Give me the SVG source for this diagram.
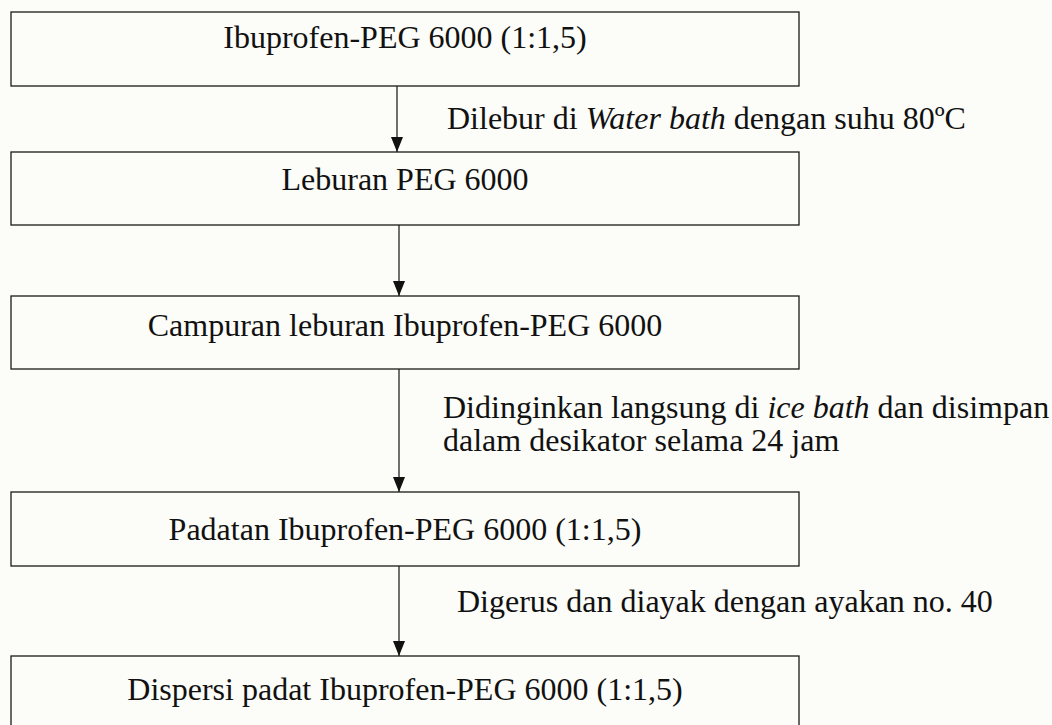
<svg xmlns="http://www.w3.org/2000/svg" width="1052" height="725" viewBox="0 0 1052 725">
<defs>
<style>
.box{fill:none;stroke:#1a1a1a;stroke-width:1.3}
.t{font-family:"Liberation Serif","Times New Roman",serif;font-size:32px;fill:#111}
.c{text-anchor:middle}
.edge{stroke:#111;stroke-width:1.2;fill:none;marker-end:url(#ah)}
</style>
<marker id="ah" viewBox="0 0 15 12" refX="15" refY="6" markerWidth="15" markerHeight="12" markerUnits="userSpaceOnUse" orient="auto">
<path d="M0,0 L15,6 L0,12 Z" fill="#111"/>
</marker>
</defs>
<rect width="1052" height="725" fill="#fcfcf8"/>
<g id="connectors">
<line class="edge" x1="397" y1="86" x2="397" y2="152"/>
<line class="edge" x1="399" y1="225" x2="399" y2="296"/>
<line class="edge" x1="399" y1="369" x2="399" y2="492"/>
<line class="edge" x1="399" y1="566" x2="399" y2="656"/>
<text class="t" x="447" y="129">Dilebur di <tspan font-style="italic">Water bath</tspan> dengan suhu 80ºC</text>
<text class="t" x="443" y="418">Didinginkan langsung di <tspan font-style="italic">ice bath</tspan> dan disimpan</text>
<text class="t" x="443" y="451">dalam desikator selama 24 jam</text>
<text class="t" x="457" y="612">Digerus dan diayak dengan ayakan no. 40</text>
</g>
<g id="n1"><rect class="box" x="11" y="12" width="788" height="74"/><text class="t c" x="405" y="48">Ibuprofen-PEG 6000 (1:1,5)</text></g>
<g id="n2"><rect class="box" x="11" y="152" width="788" height="73"/><text class="t c" x="405" y="190">Leburan PEG 6000</text></g>
<g id="n3"><rect class="box" x="11" y="296" width="788" height="73"/><text class="t c" x="405" y="336">Campuran leburan Ibuprofen-PEG 6000</text></g>
<g id="n4"><rect class="box" x="11" y="492" width="788" height="74"/><text class="t c" x="405" y="540">Padatan Ibuprofen-PEG 6000 (1:1,5)</text></g>
<g id="n5"><rect class="box" x="11" y="656" width="788" height="80"/><text class="t c" x="405" y="700">Dispersi padat Ibuprofen-PEG 6000 (1:1,5)</text></g>
</svg>
